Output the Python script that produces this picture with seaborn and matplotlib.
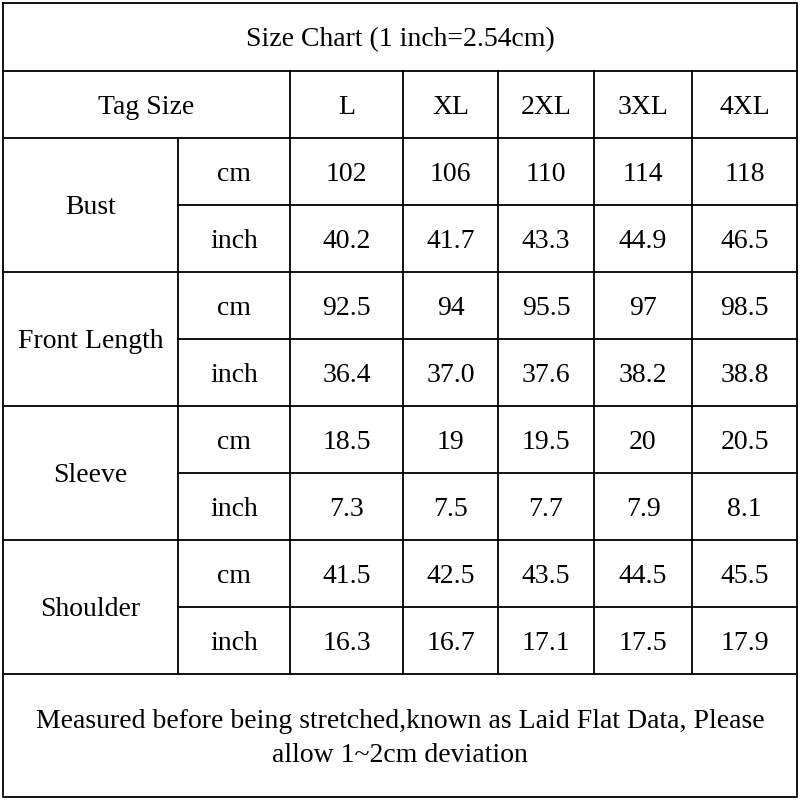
import matplotlib.pyplot as plt
import seaborn as sns

# Table data
title = "Size Chart (1 inch=2.54cm)"
sizes = ["L", "XL", "2XL", "3XL", "4XL"]
measures = ["Bust", "Front Length", "Sleeve", "Shoulder"]
units = ["cm", "inch"]
bust_cm = ["102", "106", "110", "114", "118"]
bust_in = ["40.2", "41.7", "43.3", "44.9", "46.5"]
front_cm = ["92.5", "94", "95.5", "97", "98.5"]
front_in = ["36.4", "37.0", "37.6", "38.2", "38.8"]
sleeve_cm = ["18.5", "19", "19.5", "20", "20.5"]
sleeve_in = ["7.3", "7.5", "7.7", "7.9", "8.1"]
shoulder_cm = ["41.5", "42.5", "43.5", "44.5", "45.5"]
shoulder_in = ["16.3", "16.7", "17.1", "17.5", "17.9"]
note = "Measured before being stretched,known as Laid Flat Data, Please\nallow 1~2cm deviation"

rows = [bust_cm, bust_in, front_cm, front_in, sleeve_cm, sleeve_in, shoulder_cm, shoulder_in]

sns.set_style("white")
plt.rcParams['font.family'] = ['Liberation Serif', 'DejaVu Serif']

fig = plt.figure(figsize=(8, 8), dpi=100)
ax = fig.add_axes([0, 0, 1, 1])
ax.set_xlim(0, 800)
ax.set_ylim(800, 0)
ax.axis('off')

# grid layout
xs = [3, 178, 290, 403, 498, 594, 692, 797]
ys = [3, 71, 138] + [138 + 67 * i for i in range(1, 9)] + [797]
kw = dict(color='black', lw=1.3)
tk = dict(ha='center', va='center', fontsize=20, color='black')
dy = 3  # text sits a little below cell centre

# outer border and horizontals
ax.plot([xs[0], xs[-1], xs[-1], xs[0], xs[0]], [ys[0], ys[0], ys[-1], ys[-1], ys[0]], **kw)
ax.plot([xs[0], xs[-1]], [ys[1]] * 2, **kw)
ax.plot([xs[0], xs[-1]], [ys[2]] * 2, **kw)
for i in range(1, 9):
    y = ys[2 + i]
    x0 = xs[0] if i % 2 == 0 else xs[1]
    ax.plot([x0, xs[-1]], [y, y], **kw)
# verticals
for x in xs[2:-1]:
    ax.plot([x, x], [ys[1], ys[-2]], **kw)
ax.plot([xs[1], xs[1]], [ys[2], ys[-2]], **kw)

ax.text(400, (ys[0] + ys[1]) / 2 + dy, title, **tk)
ax.text((xs[0] + xs[2]) / 2, (ys[1] + ys[2]) / 2 + dy, "Tag Size", **tk)
for j, s in enumerate(sizes):
    ax.text((xs[2 + j] + xs[3 + j]) / 2, (ys[1] + ys[2]) / 2 + dy, s, **tk)

for i, m in enumerate(measures):
    ax.text((xs[0] + xs[1]) / 2, ys[2 + 2 * i + 1] + dy, m, **tk)

for r, vals in enumerate(rows):
    yc = (ys[2 + r] + ys[3 + r]) / 2 + dy
    ax.text((xs[1] + xs[2]) / 2, yc, units[r % 2], **tk)
    for j, v in enumerate(vals):
        ax.text((xs[2 + j] + xs[3 + j]) / 2, yc, v, **tk)

ax.text(400, (ys[-2] + ys[-1]) / 2 + dy, note, linespacing=1.45, **tk)

fig.savefig("out.png", dpi=100)
